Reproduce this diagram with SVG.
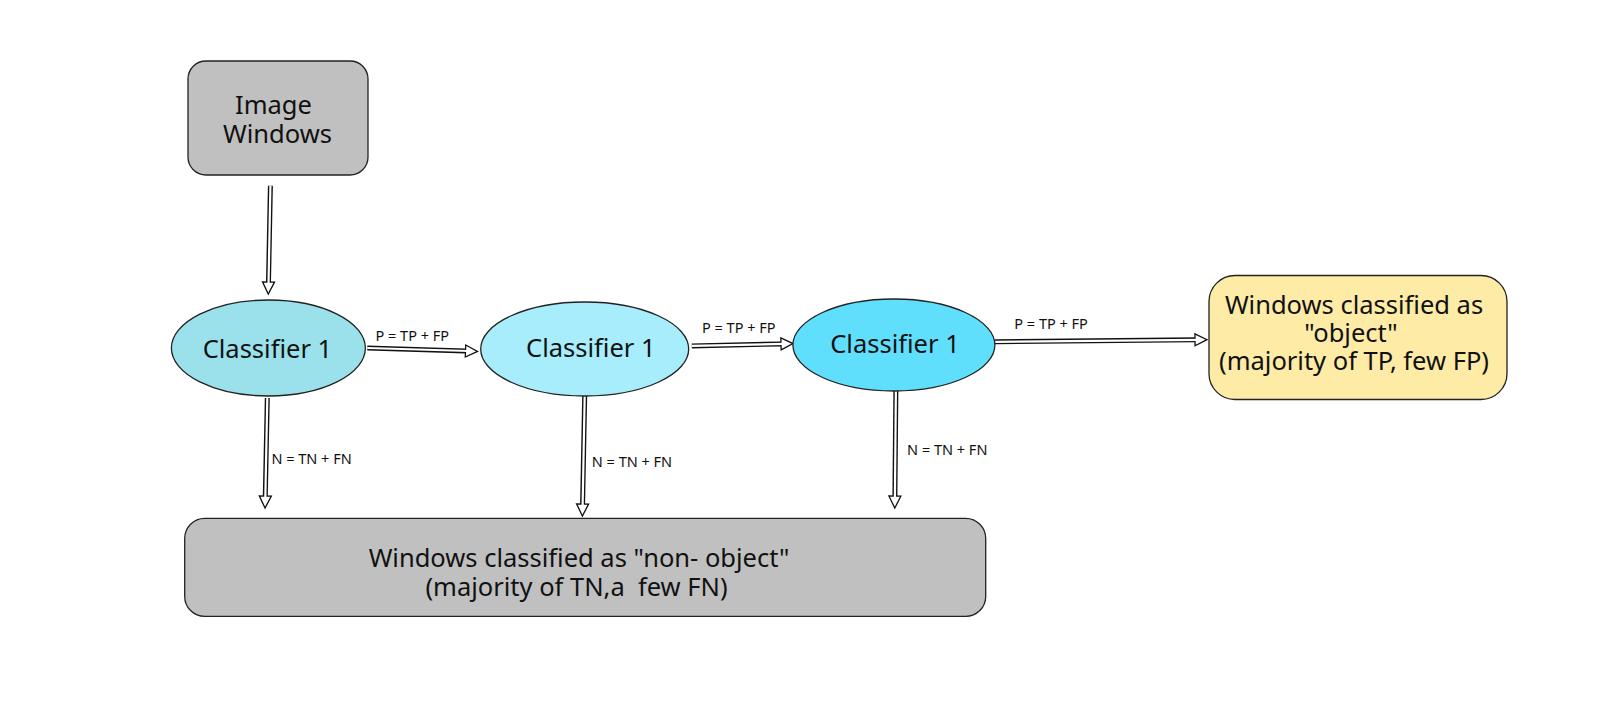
<svg xmlns="http://www.w3.org/2000/svg" width="1600" height="726" viewBox="0 0 1600 726">
<style>
  .box{stroke:#222;stroke-width:1.3}
  .gray{fill:#c0c0c0}
  .t{font-family:"Noto Sans","Open Sans",sans-serif;fill:#111;text-anchor:middle}
  .big{font-size:25.5px}
  .lbl{font-family:"Noto Sans","Open Sans",sans-serif;font-size:14.5px;fill:#111}
  .outer{stroke:#111;stroke-width:5;fill:none;marker-end:url(#head)}
  .inner{stroke:#fff;stroke-width:2.2;fill:none}
</style>
<defs>
  <marker id="head" markerUnits="userSpaceOnUse" markerWidth="16" markerHeight="16" viewBox="0 0 16 16" refX="1" refY="8" orient="auto">
    <path d="M1,2 L13,8 L1,14 Z" fill="#fff" stroke="#111" stroke-width="1.3" stroke-linejoin="miter"/>
  </marker>
</defs>
<rect width="1600" height="726" fill="#fff"/>

<g id="connectors">
  <g id="e-img-c1">
    <line class="outer" x1="270.4" y1="185.7" x2="268.5" y2="282"/>
    <line class="inner" x1="270.4" y1="185.7" x2="268.5" y2="285"/>
  </g>
  <g id="e-c1-c2">
    <line class="outer" x1="367.3" y1="348" x2="465.5" y2="351"/>
    <line class="inner" x1="367.3" y1="348" x2="468.5" y2="351"/>
    <text class="lbl" x="375.5" y="340.8">P = TP + FP</text>
  </g>
  <g id="e-c2-c3">
    <line class="outer" x1="691.8" y1="345.9" x2="781" y2="343.9"/>
    <line class="inner" x1="691.8" y1="345.9" x2="784" y2="343.9"/>
    <text class="lbl" x="702" y="332.7">P = TP + FP</text>
  </g>
  <g id="e-c3-obj">
    <line class="outer" x1="994.9" y1="341.8" x2="1195" y2="339.8"/>
    <line class="inner" x1="994.9" y1="341.8" x2="1198" y2="339.8"/>
    <text class="lbl" x="1014.3" y="328.6">P = TP + FP</text>
  </g>
  <g id="e-c1-non">
    <line class="outer" x1="267.3" y1="398" x2="265.3" y2="496"/>
    <line class="inner" x1="267.3" y1="398" x2="265.3" y2="499"/>
    <text class="lbl" x="271.4" y="464.3">N = TN + FN</text>
  </g>
  <g id="e-c2-non">
    <line class="outer" x1="584.7" y1="394.9" x2="582.6" y2="504"/>
    <line class="inner" x1="584.7" y1="394.9" x2="582.6" y2="507"/>
    <text class="lbl" x="591.8" y="467.3">N = TN + FN</text>
  </g>
  <g id="e-c3-non">
    <line class="outer" x1="895.9" y1="387.8" x2="894.9" y2="496"/>
    <line class="inner" x1="895.9" y1="387.8" x2="894.9" y2="499"/>
    <text class="lbl" x="907.1" y="455.1">N = TN + FN</text>
  </g>
</g>

<g id="image-windows">
  <rect class="box gray" x="188" y="61" width="180" height="114" rx="18"/>
  <text class="t big" x="273.5" y="114">Image</text>
  <text class="t big" x="277.5" y="143">Windows</text>
</g>

<g id="classifier-a">
  <ellipse class="box" cx="268.4" cy="348" rx="97" ry="48" fill="#9be1eb"/>
  <text class="t big" x="267.4" y="358">Classifier 1</text>
</g>

<g id="classifier-b">
  <ellipse class="box" cx="584.7" cy="349" rx="104" ry="47" fill="#a7edfb"/>
  <text class="t big" x="590.8" y="357">Classifier 1</text>
</g>

<g id="classifier-c">
  <ellipse class="box" cx="893.9" cy="345" rx="101" ry="46" fill="#60dffc"/>
  <text class="t big" x="895" y="353">Classifier 1</text>
</g>

<g id="object-windows">
  <rect class="box" x="1209" y="275.5" width="298" height="124" rx="26" fill="#fdeba6"/>
  <text class="t big" x="1354" y="314">Windows classified as</text>
  <text class="t big" x="1351" y="342">"object"</text>
  <text class="t big" x="1354" y="370">(majority of TP, few FP)</text>
</g>

<g id="non-object-windows">
  <rect class="box gray" x="184.7" y="518.4" width="801" height="98" rx="20"/>
  <text class="t big" x="579" y="567">Windows classified as "non- object"</text>
  <text class="t big" x="576.5" y="596" xml:space="preserve">(majority of TN,a  few FN)</text>
</g>
</svg>
